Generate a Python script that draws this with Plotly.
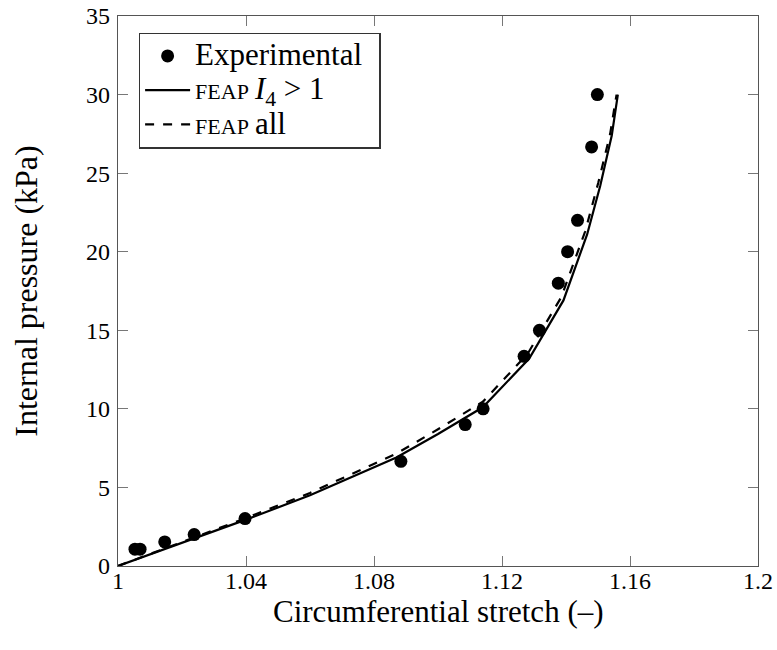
import plotly.graph_objects as go

# Experimental data
exp_x = [1.0053, 1.0069, 1.0146, 1.0238, 1.0397, 1.0884, 1.1085, 1.1141, 1.1269,
         1.1317, 1.1376, 1.1405, 1.1436, 1.1480, 1.1498]
exp_y = [1.07, 1.07, 1.53, 2.0, 3.02, 6.66, 9.0, 10.0, 13.34,
         15.0, 18.0, 20.0, 22.0, 26.67, 30.0]

# FEAP I4 > 1 (solid)
feap_i4_x = [1.0, 1.02, 1.04, 1.06, 1.087, 1.1, 1.114, 1.1285, 1.1392, 1.1466, 1.1507, 1.1543, 1.1562]
feap_i4_y = [0.0, 1.45, 2.95, 4.5, 6.9, 8.4, 10.1, 13.2, 16.9, 21.1, 24.2, 27.4, 30.0]

# FEAP all (dashed)
feap_all_x = [1.0, 1.02, 1.04, 1.06, 1.087, 1.1, 1.114, 1.128, 1.1385, 1.146, 1.1501, 1.1538, 1.1558]
feap_all_y = [0.0, 1.5, 3.05, 4.65, 7.15, 8.7, 10.45, 13.5, 17.1, 21.3, 24.4, 27.5, 30.0]

x_ticks = [1.0, 1.04, 1.08, 1.12, 1.16, 1.2]
x_ticktext = ["1", "1.04", "1.08", "1.12", "1.16", "1.2"]
y_ticks = [0, 5, 10, 15, 20, 25, 30, 35]

FONT = "Liberation Serif"
BIG = "<span style='font-size:31px'>"
SC = "<span style='font-size:22px'>"

fig = go.Figure()
fig.add_trace(go.Scatter(x=exp_x, y=exp_y, mode="markers",
                         name=BIG + "Experimental</span>&nbsp;&nbsp;",
                         marker=dict(color="black", size=13)))
fig.add_trace(go.Scatter(x=feap_i4_x, y=feap_i4_y, mode="lines",
                         name=SC + "FEAP</span> " + BIG + "<i>I</i><sub>4</sub> &gt; 1</span>",
                         line=dict(color="black", width=2.2)))
fig.add_trace(go.Scatter(x=feap_all_x, y=feap_all_y, mode="lines",
                         name=SC + "FEAP</span> " + BIG + "all</span>",
                         line=dict(color="black", width=2.2, dash="dash")))

axis_common = dict(showgrid=False, zeroline=False, showline=True, linecolor="#555555",
                   linewidth=1.3, mirror="ticks", ticks="inside", ticklen=10,
                   tickcolor="#777777", tickwidth=1, automargin=False,
                   tickfont=dict(family=FONT, size=24, color="black"))

fig.update_layout(
    width=777, height=650,
    paper_bgcolor="white", plot_bgcolor="white",
    margin=dict(l=118, r=19, t=16, b=84),
    font=dict(family=FONT, color="black"),
    showlegend=True,
    legend=dict(x=0.0325, y=0.97, xanchor="left", yanchor="top",
                bordercolor="#333333", borderwidth=1.3, bgcolor="white",
                font=dict(family=FONT, size=24, color="black"),
                tracegroupgap=0, itemwidth=45),
    annotations=[dict(text="Circumferential stretch (–)", xref="paper", yref="paper",
                      x=0.5, y=-0.082, xanchor="center", yanchor="middle",
                      showarrow=False, font=dict(family=FONT, size=31, color="black"))],
)
fig.update_xaxes(range=[1.0, 1.2], tickvals=x_ticks, ticktext=x_ticktext,
                 ticklabelstandoff=-7, **axis_common)
fig.update_yaxes(range=[0, 35], tickvals=y_ticks,
                 ticklabelstandoff=2,
                 title=dict(text="Internal pressure (kPa)", font=dict(family=FONT, size=32, color="black"), standoff=38),
                 **axis_common)

fig.write_html("out.html", config={"displayModeBar": False},
               post_script="document.body.style.margin='0px';")
